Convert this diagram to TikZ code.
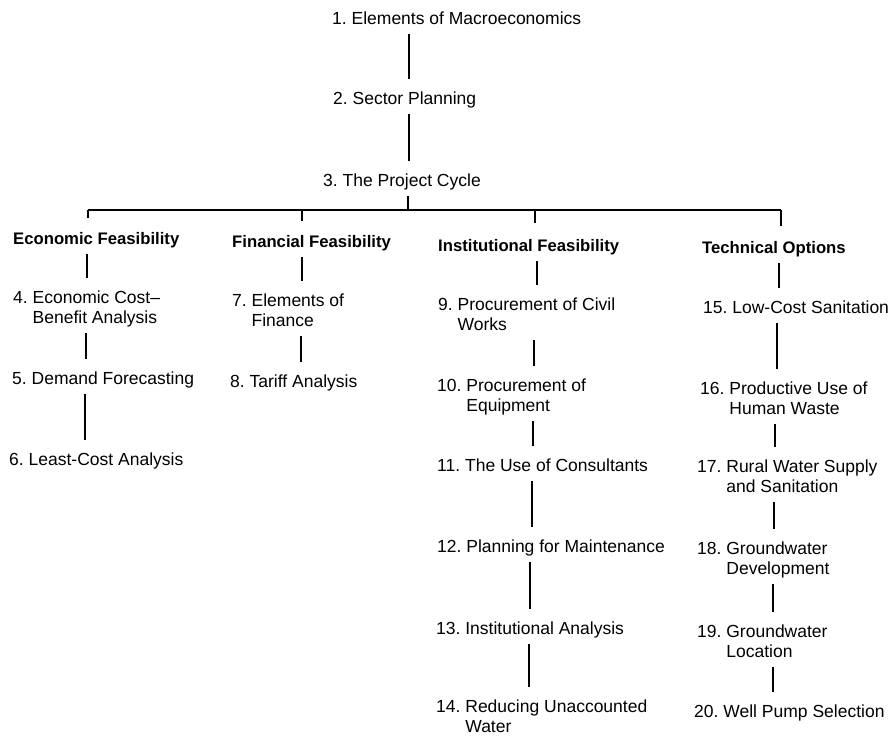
\documentclass[tikz,border=0pt]{standalone}
\usepackage{fontspec}
\setmainfont{Liberation Sans}
\newcommand{\mylines}[1]{\begin{tabular}[t]{@{}l@{}l@{}}#1\end{tabular}}
\newcommand{\nm}[1]{#1\ \mbox{}}
\begin{document}
\begin{tikzpicture}[x=1pt,y=-1pt,
  conn/.style={line width=1.6pt, black, shorten <=4pt, shorten >=11pt},
  busline/.style={line width=1.3pt, black},
  lbl/.style={anchor=base west, inner sep=0pt, font=\fontsize{17.5}{20}\selectfont},
  head/.style={anchor=base west, inner sep=0pt, font=\fontsize{16.7}{20}\selectfont\bfseries},
]
\useasboundingbox (0,0) rectangle (891,737);
\fill[white] (0,0) rectangle (891,737);

% top chain
\node[lbl] (n1) at (332,24) {\mylines{\nm{1.}&Elements of Macroeconomics}};
\node[lbl] (n2) at (333,104) {\mylines{\nm{2.}&Sector Planning}};
\node[lbl] (n3) at (323,186) {\mylines{\nm{3.}&The Project Cycle}};

% headings
\node[head] (hE) at (13,244) {\mylines{Economic Feasibility}};
\node[head] (hF) at (232,247) {\mylines{Financial Feasibility}};
\node[head] (hI) at (438,251) {\mylines{Institutional Feasibility}};
\node[head] (hT) at (702,253) {\mylines{Technical Options}};

% column 1
\node[lbl] (n4) at (13,303) {\mylines{\nm{4.}&Economic Cost--\\&Benefit Analysis}};
\node[lbl] (n5) at (12,384) {\mylines{\nm{5.}&Demand Forecasting}};
\node[lbl] (n6) at (9,465) {\mylines{\nm{6.}&Least-Cost Analysis}};

% column 2
\node[lbl] (n7) at (232,306) {\mylines{\nm{7.}&Elements of\\&Finance}};
\node[lbl] (n8) at (230,387) {\mylines{\nm{8.}&Tariff Analysis}};

% column 3
\node[lbl] (n9) at (438,310) {\mylines{\nm{9.}&Procurement of Civil\\&Works}};
\node[lbl] (n10) at (437,391) {\mylines{\nm{10.}&Procurement of\\&Equipment}};
\node[lbl] (n11) at (437,471) {\mylines{\nm{11.}&The Use of Consultants}};
\node[lbl] (n12) at (437,552) {\mylines{\nm{12.}&Planning for Maintenance}};
\node[lbl] (n13) at (436,634) {\mylines{\nm{13.}&Institutional Analysis}};
\node[lbl] (n14) at (436,712) {\mylines{\nm{14.}&Reducing Unaccounted\\&Water}};

% column 4
\node[lbl] (n15) at (703,313) {\mylines{\nm{15.}&Low-Cost Sanitation}};
\node[lbl] (n16) at (700,394) {\mylines{\nm{16.}&Productive Use of\\&Human Waste}};
\node[lbl] (n17) at (697,472) {\mylines{\nm{17.}&Rural Water Supply\\&and Sanitation}};
\node[lbl] (n18) at (697,554) {\mylines{\nm{18.}&Groundwater\\&Development}};
\node[lbl] (n19) at (697,637) {\mylines{\nm{19.}&Groundwater\\&Location}};
\node[lbl] (n20) at (694,717) {\mylines{\nm{20.}&Well Pump Selection}};

% connector x positions
\coordinate (a0) at (409,0);
\coordinate (a1) at (408,0);
\coordinate (e1) at (87,0);
\coordinate (e2) at (86,0);
\coordinate (e3) at (85,0);
\coordinate (f1) at (302,0);
\coordinate (f2) at (301,0);
\coordinate (i1) at (537,0);
\coordinate (i2) at (534,0);
\coordinate (i3) at (533,0);
\coordinate (i4) at (532,0);
\coordinate (i5) at (530,0);
\coordinate (i6) at (529,0);
\coordinate (t1) at (779,0);
\coordinate (t2) at (777,0);
\coordinate (t3) at (775,0);
\coordinate (t4) at (774,0);
\coordinate (t5) at (773,0);
\coordinate (t6) at (773,0);

% bus
\coordinate (busL) at (88,210);
\coordinate (busR) at (781,210);
\coordinate (bF) at (302,210);
\coordinate (bI) at (535,210);

\draw[conn] (n1.south -| a0) -- (n2.north -| a0);
\draw[conn] (n2.south -| a0) -- (n3.north -| a0);
\draw[conn, shorten >=0pt] (n3.south -| a1) -- (a1 |- busL);
\draw[busline] (busL) -- (busR);
\draw[conn, shorten <=0pt, shorten >=12pt] (busL) -- (hE.north -| busL);
\draw[conn, shorten <=0pt, shorten >=12pt] (bF) -- (hF.north -| bF);
\draw[conn, shorten <=0pt, shorten >=14pt] (bI) -- (hI.north -| bI);
\draw[conn, shorten <=0pt, shorten >=13pt] (busR) -- (hT.north -| busR);

\draw[conn] (hE.south -| e1) -- (n4.north -| e1);
\draw[conn] (n4.south -| e2) -- (n5.north -| e2);
\draw[conn] (n5.south -| e3) -- (n6.north -| e3);

\draw[conn] (hF.south -| f1) -- (n7.north -| f1);
\draw[conn] (n7.south -| f2) -- (n8.north -| f2);

\draw[conn] (hI.south -| i1) -- (n9.north -| i1);
\draw[conn] (n9.south -| i2) -- (n10.north -| i2);
\draw[conn] (n10.south -| i3) -- (n11.north -| i3);
\draw[conn] (n11.south -| i4) -- (n12.north -| i4);
\draw[conn] (n12.south -| i5) -- (n13.north -| i5);
\draw[conn] (n13.south -| i6) -- (n14.north -| i6);

\draw[conn] (hT.south -| t1) -- (n15.north -| t1);
\draw[conn] (n15.south -| t2) -- (n16.north -| t2);
\draw[conn] (n16.south -| t3) -- (n17.north -| t3);
\draw[conn] (n17.south -| t4) -- (n18.north -| t4);
\draw[conn] (n18.south -| t5) -- (n19.north -| t5);
\draw[conn] (n19.south -| t6) -- (n20.north -| t6);
\end{tikzpicture}
\end{document}
